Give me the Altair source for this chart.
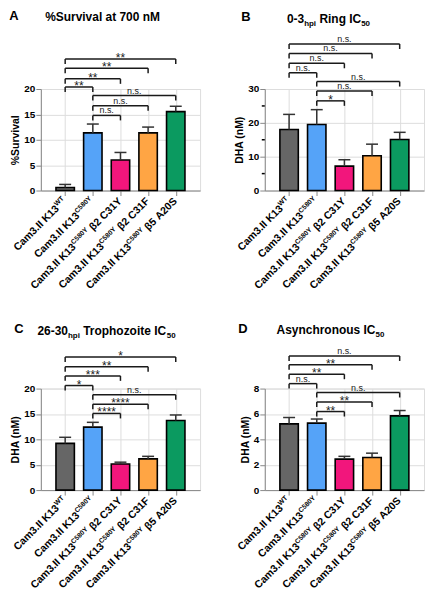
import altair as alt
import pandas as pd

# ---------------- data ----------------
lab_pre = "Cam3.II K13"
lab_sup = ["WT", "C580Y", "C580Y", "C580Y", "C580Y"]
lab_post = ["", "", "β2 C31Y", "β2 C31F", "β5 A20S"]
names = [lab_pre + s + (" " + p if p else "") for s, p in zip(lab_sup, lab_post)]
colors = ["#666666", "#55A3F8", "#F2167C", "#FFA544", "#0B9A60"]
idx = [0, 1, 2, 3, 4]

# bracket pairs (same comparisons in every panel)
br_from = [0, 0, 0, 0, 1, 1, 1]
br_to = [4, 3, 2, 1, 4, 3, 2]

# Panel A  (title pieces: text, is_subscript)
a_title = [("%Survival at 700 nM", False)]
a_mean = [0.6, 11.35, 6.0, 11.35, 15.55]
a_sd = [0.6, 1.75, 1.5, 1.15, 1.05]
a_br_h = [25.9, 24.1, 22.0, 20.4, 18.7, 16.7, 14.8]
a_br_lab = ["**", "**", "**", "**", "n.s.", "n.s.", "n.s."]
a_ticks = [0, 5, 10, 15, 20]

# Panel B
b_title = [("0-3", False), ("hpi", True), (" Ring IC", False), ("50", True)]
b_mean = [18.05, 19.5, 7.2, 10.3, 15.1]
b_sd = [4.45, 4.4, 1.9, 3.4, 2.1]
b_br_h = [43.3, 40.5, 37.6, 34.8, 32.2, 29.4, 26.5]
b_br_lab = ["n.s.", "n.s.", "n.s.", "n.s.", "n.s.", "n.s.", "*"]
b_ticks = [0, 10, 20, 30]
b_minor = [5, 15, 25]

# Panel C
c_title = [("26-30", False), ("hpi", True), (" Trophozoite IC", False), ("50", True)]
c_mean = [9.2, 12.4, 5.15, 6.15, 13.7]
c_sd = [1.2, 0.95, 0.35, 0.5, 1.1]
c_br_h = [26.2, 24.3, 22.5, 20.6, 18.8, 16.9, 15.1]
c_br_lab = ["*", "**", "***", "*", "n.s.", "****", "****"]
c_ticks = [0, 5, 10, 15, 20]

# Panel D
d_title = [("Asynchronous IC", False), ("50", True)]
d_mean = [5.22, 5.28, 2.44, 2.57, 5.85]
d_sd = [0.5, 0.32, 0.22, 0.34, 0.42]
d_br_h = [10.57, 9.88, 9.13, 8.39, 7.69, 6.94, 6.19]
d_br_lab = ["n.s.", "**", "**", "n.s.", "n.s.", "**", "**"]
d_ticks = [0, 2, 4, 6, 8]

# ---------------- layout / style ----------------
W = 160
H = 102
BAR_W = 18.5
FONT = "Liberation Sans"
INK = "#1a1a1a"
T_SIZE = 12
SUB_SIZE = 8
LAB_SIZE = 10.5
LAB_SUP = 6.8

# Arial-bold advance widths (per 1000 em) used to lay out mixed-size text
ADV = {c: 556 for c in "0123456789"}
ADV.update({"-": 333, " ": 278, "R": 722, "i": 278, "n": 611, "g": 611,
            "I": 278, "C": 722, "T": 611, "r": 389, "o": 611, "p": 611,
            "h": 611, "z": 500, "t": 333, "e": 556, "A": 722, "s": 556,
            "y": 556, "c": 556, "u": 611, "a": 556, "l": 278, "M": 833,
            "%": 889, "S": 667, "v": 556, "m": 889, ".": 278, "K": 722,
            "W": 944, "Y": 667, "F": 611, "β": 611})


def text_w(s, size):
    return sum(ADV.get(ch, 600) for ch in s) * size / 1000.0


def title_layers(pieces, cx, cy):
    sizes = [SUB_SIZE if sub else T_SIZE for _, sub in pieces]
    widths = [text_w(t, s) for (t, _), s in zip(pieces, sizes)]
    x = cx - sum(widths) / 2.0
    out = []
    for (t, sub), s, w in zip(pieces, sizes, widths):
        lead = len(t) - len(t.lstrip(" "))
        out.append(alt.Chart(pd.DataFrame({"t": [t.strip()]})).mark_text(
            fontSize=s, fontWeight="bold", font=FONT, color="black",
            baseline="alphabetic", align="left", dy=3 if sub else 0).encode(
            text="t:N", x=alt.value(x + text_w(" " * lead, s)), y=alt.value(cy + 4)))
        x += w
    return out


def label_layers(X):
    out = []
    for i in idx:
        pieces = [(lab_pre, LAB_SIZE, 0.0)]
        d = text_w(lab_pre, LAB_SIZE)
        pieces.append((lab_sup[i], LAB_SUP, d))
        d += text_w(lab_sup[i], LAB_SUP)
        if lab_post[i]:
            d += text_w(" ", LAB_SIZE)
            pieces.append((lab_post[i], LAB_SIZE, d))
            d += text_w(lab_post[i], LAB_SIZE)
        total = d
        for t, s, off in pieces:
            raise_ = -4.2 if s == LAB_SUP else 0.0
            out.append(alt.Chart(pd.DataFrame({"idx": [i], "t": [t]})).mark_text(
                angle=315, align="left", baseline="alphabetic", fontSize=s,
                fontWeight="bold", font=FONT, color="black",
                dx=off - total - 1, dy=3.7 + raise_).encode(
                x=X("idx:Q"), y=alt.value(H + 8), text="t:N"))
    return out


def panel(letter, title, ytitle, ticks, means, sds, br_h, br_lab,
          letter_pos, title_pos, minor=None):
    ymax = ticks[-1]
    df = pd.DataFrame({"idx": idx, "name": names, "mean": means, "sd": sds})
    df["top"] = df["mean"] + df["sd"]
    brk = pd.DataFrame({"x1": br_from, "x2": br_to, "h": br_h, "lab": br_lab})

    xs = alt.Scale(domain=[-0.7, 4.7], nice=False, zero=False)
    ys = alt.Scale(domain=[0, ymax], nice=False, zero=True)
    xax = alt.Axis(values=idx, labels=False, title=None)
    yax = alt.Axis(values=ticks, title=ytitle, titleFontSize=10.5,
                   titleFontWeight="bold", titlePadding=3, labelFontSize=10,
                   labelPadding=1, labelFontWeight="bold")

    X = lambda f: alt.X(f, scale=xs, axis=xax)
    Y = lambda f: alt.Y(f, scale=ys, axis=yax, stack=None)

    base = alt.Chart(df)
    bars = base.mark_bar(orient="vertical", size=BAR_W, stroke="black",
                         strokeWidth=1.6).encode(
        x=X("idx:Q"), y=Y("mean:Q"),
        color=alt.Color("name:N", scale=alt.Scale(domain=names, range=colors),
                        legend=None))
    err = base.mark_rule(color="#333333", strokeWidth=1.5).encode(
        x=X("idx:Q"), y=Y("mean:Q"), y2="top:Q")
    cap = base.mark_rule(color="#333333", strokeWidth=1.5, xOffset=-6,
                         x2Offset=6).encode(x=X("idx:Q"), x2="idx:Q", y=Y("top:Q"))

    bch = alt.Chart(brk)
    hl = bch.mark_rule(color=INK, strokeWidth=1.5).encode(
        x=X("x1:Q"), x2="x2:Q", y=Y("h:Q"))
    ends = bch.transform_fold(["x1", "x2"], as_=["end", "xe"]).mark_rule(
        color=INK, strokeWidth=1.5, y2Offset=5).encode(
        x=X("xe:Q"), y=Y("h:Q"), y2="h:Q")
    mid = bch.transform_calculate(xm="(datum.x1 + datum.x2) / 2")
    stars = mid.transform_filter("indexof(datum.lab, '*') >= 0").mark_text(
        baseline="alphabetic", dy=3, fontSize=12, font=FONT, color=INK).encode(
        x=X("xm:Q"), y=Y("h:Q"), text="lab:N")
    ns = mid.transform_filter("indexof(datum.lab, '*') < 0").mark_text(
        baseline="alphabetic", dy=-2, fontSize=9, font=FONT, color=INK).encode(
        x=X("xm:Q"), y=Y("h:Q"), text="lab:N")

    let = alt.Chart(pd.DataFrame({"t": [letter]})).mark_text(
        fontSize=13, fontWeight="bold", font=FONT, color="black",
        baseline="middle", align="center").encode(
        text="t:N", x=alt.value(letter_pos[0]), y=alt.value(letter_pos[1]))

    layers = [bars, err, cap, hl, ends, stars, ns, let]
    layers += title_layers(title, title_pos[0], title_pos[1])
    layers += label_layers(X)
    if minor:
        mt = alt.Chart(pd.DataFrame({"v": minor})).mark_rule(
            color="black", strokeWidth=1.5).encode(
            x=alt.value(0), x2=alt.value(-3), y=Y("v:Q"))
        layers.append(mt)
    return alt.layer(*layers).properties(width=W, height=H)


pA = panel("A", a_title, "%Survival", a_ticks, a_mean, a_sd, a_br_h, a_br_lab,
           (-27, -73), (62, -72))
pB = panel("B", b_title, "DHA (nM)", b_ticks, b_mean, b_sd, b_br_h, b_br_lab,
           (-19, -72), (64, -70), minor=b_minor)
pC = panel("C", c_title, "DHA (nM)", c_ticks, c_mean, c_sd, c_br_h, c_br_lab,
           (-22, -60), (66, -58))
pD = panel("D", d_title, "DHA (nM)", d_ticks, d_mean, d_sd, d_br_h, d_br_lab,
           (-22, -60), (66, -59))

chart = alt.concat(pA, pB, pC, pD, columns=2,
                   spacing={"row": 30, "column": 33}).properties(
    padding={"left": 0, "top": 0, "right": 0, "bottom": 0}
).configure_view(stroke=None).configure_axis(
    grid=False, domainColor="black", domainWidth=2, tickColor="black",
    tickWidth=1.5, tickSize=5, labelColor="black", labelFont=FONT,
    labelFontWeight="bold", titleFont=FONT, titleColor="black"
).configure(font=FONT)

chart.save("out.html", embed_options={"renderer": "svg", "actions": False})
